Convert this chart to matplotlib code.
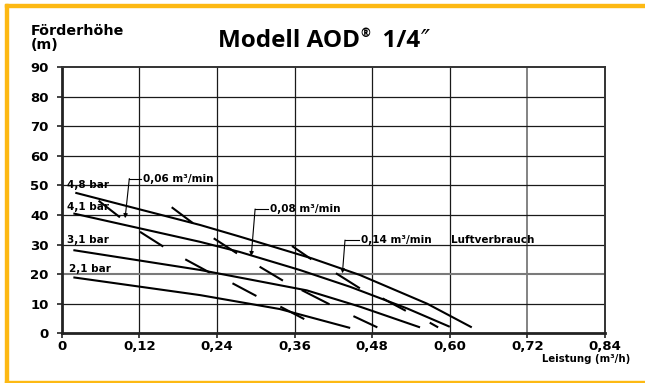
import matplotlib.pyplot as plt
from matplotlib.patches import Rectangle

plt.rcParams['font.family'] = ['DejaVu Sans']
plt.rcParams['font.weight'] = 'bold'

# Pump curves (flow in m3/h, head in m)
q_48 = [0.021, 0.214, 0.275, 0.387, 0.461, 0.565, 0.634]
h_48 = [47.5, 36.6, 32.7, 25.3, 19.7, 10.0, 2.0]
q_41 = [0.018, 0.214, 0.275, 0.368, 0.446, 0.534, 0.600]
h_41 = [40.5, 30.9, 27.5, 21.4, 15.7, 8.4, 2.2]
q_31 = [0.018, 0.214, 0.379, 0.461, 0.554]
h_31 = [28.1, 21.4, 14.5, 9.0, 2.0]
q_21 = [0.018, 0.214, 0.337, 0.446]
h_21 = [18.9, 12.9, 8.2, 1.8]
curve_labels = ['4,8 bar', '4,1 bar', '3,1 bar', '2,1 bar']
label_pos = [(0.008, 50.2), (0.008, 42.8), (0.008, 31.6), (0.011, 21.6)]

# air consumption marks (short strokes)
air_q0 = [0.057, 0.170, 0.121, 0.191, 0.235, 0.356, 0.306, 0.264, 0.371, 0.338, 0.424, 0.496, 0.451, 0.569]
air_h0 = [44.8, 42.6, 34.3, 25.0, 32.1, 29.5, 22.5, 16.9, 14.6, 9.0, 20.3, 11.8, 5.8, 3.6]
air_q1 = [0.090, 0.203, 0.157, 0.229, 0.271, 0.386, 0.342, 0.301, 0.414, 0.375, 0.461, 0.532, 0.488, 0.582]
air_h1 = [39.2, 37.2, 29.3, 20.5, 27.0, 25.0, 17.8, 12.6, 9.8, 4.8, 15.2, 7.6, 2.0, 2.0]

# leader annotations: text, text anchor, corner, arrow tip
air_texts = ['0,06 m³/min', '0,08 m³/min', '0,14 m³/min']
air_text_xy = [(0.125, 52.3), (0.322, 42.0), (0.463, 31.5)]
air_corner = [(0.1045, 52.3), (0.299, 42.0), (0.438, 31.5)]
air_tip = [(0.098, 38.9), (0.293, 26.1), (0.434, 20.3)]

xticks = [0, 0.12, 0.24, 0.36, 0.48, 0.60, 0.72, 0.84]
xticklabels = ['0', '0,12', '0,24', '0,36', '0,48', '0,60', '0,72', '0,84']
yticks = list(range(0, 100, 10))

fig = plt.figure(figsize=(6.45, 3.83), dpi=100)
ax = fig.add_axes([0.0957, 0.1298, 0.9380 - 0.0957, 0.8251 - 0.1298])

# grid
for x in xticks[1:-1]:
    c = '#7a7a7a' if x == 0.72 else '#1a1a1a'
    ax.axvline(x, color=c, lw=1.3 if x == 0.72 else 0.9, zorder=1)
for y in yticks[1:-1]:
    c = '#7a7a7a' if y == 20 else '#1a1a1a'
    ax.axhline(y, color=c, lw=1.5 if y == 20 else 0.9, zorder=1)

for q, h in [(q_48, h_48), (q_41, h_41), (q_31, h_31), (q_21, h_21)]:
    ax.plot(q, h, color='black', lw=1.5, solid_capstyle='butt', zorder=3)
for lab, (x, y) in zip(curve_labels, label_pos):
    ax.text(x, y, lab, fontsize=7.5, fontweight='bold', va='center', ha='left', zorder=4)

for a, b, c, d in zip(air_q0, air_h0, air_q1, air_h1):
    ax.plot([a, c], [b, d], color='black', lw=1.5, solid_capstyle='butt', zorder=3)

for t, txy, cxy, tip in zip(air_texts, air_text_xy, air_corner, air_tip):
    ax.plot([txy[0] - 0.003, cxy[0]], [cxy[1], cxy[1]], color='black', lw=0.8, zorder=4)
    ax.annotate('', xy=tip, xytext=cxy,
                arrowprops=dict(arrowstyle='-|>', color='black', lw=0.8,
                                mutation_scale=6, shrinkA=0, shrinkB=0), zorder=4)
    ax.text(txy[0], txy[1], t, fontsize=7.5, fontweight='bold', va='center', ha='left', zorder=4)
ax.text(0.602, 31.5, 'Luftverbrauch', fontsize=7.5, fontweight='bold', va='center', ha='left')

ax.set_xlim(0, 0.84)
ax.set_ylim(0, 90)
ax.set_xticks(xticks)
ax.set_xticklabels(xticklabels)
ax.set_yticks(yticks)
ax.tick_params(axis='both', labelsize=9.5, length=3.5, width=1.2, color='#222222', pad=1)
ax.tick_params(axis='y', pad=6)
for lab in ax.get_xticklabels() + ax.get_yticklabels():
    lab.set_fontweight('bold')
for side in ['left', 'bottom']:
    ax.spines[side].set_linewidth(2.0)
    ax.spines[side].set_color('#222222')
for side in ['top', 'right']:
    ax.spines[side].set_linewidth(1.4)
    ax.spines[side].set_color('#333333')

fig.text(0.047, 0.937, 'Förderhöhe\n(m)', fontsize=10.3, fontweight='bold',
         ha='left', va='top', linespacing=1.0)
fig.text(0.977, 0.062, 'Leistung (m³/h)', fontsize=7.3, fontweight='bold', ha='right', va='center')

# title built from pieces so the registered sign sits raised and small
r = fig.canvas.get_renderer()
base_y = 1 - 46.7 / 383
parts = [
    ('Modell AOD', dict(fontsize=17.5, family='Open Sans', fontweight='bold'), base_y),
    ('®', dict(fontsize=8.5, family='Open Sans', fontweight='bold'), 1 - 37 / 383),
    ('  1/4', dict(fontsize=17.5, family='Open Sans', fontweight='bold'), base_y),
    ('″', dict(fontsize=17.5, family='DejaVu Sans', fontweight='normal', style='italic'), base_y),
]
texts = []
total = 0
for s, kw, y in parts:
    t = fig.text(0, y, s, ha='left', va='baseline', **kw)
    w = t.get_window_extent(r).width
    texts.append((t, w))
    total += w
x0 = 324 - total / 2
for t, w in texts:
    t.set_x(x0 / 645)
    x0 += w

# yellow frame
frame = '#fdb913'
fig.patches.append(Rectangle((5 / 645, 0), 3 / 645, 1 - 4 / 383, transform=fig.transFigure,
                             color=frame, zorder=0))
fig.patches.append(Rectangle((5 / 645, 1 - 7 / 383), 1, 3 / 383, transform=fig.transFigure,
                             color=frame, zorder=0))
fig.patches.append(Rectangle((5 / 645, 0), 1, 2.5 / 383, transform=fig.transFigure,
                             color=frame, zorder=0))

fig.savefig('out.png', dpi=100)
